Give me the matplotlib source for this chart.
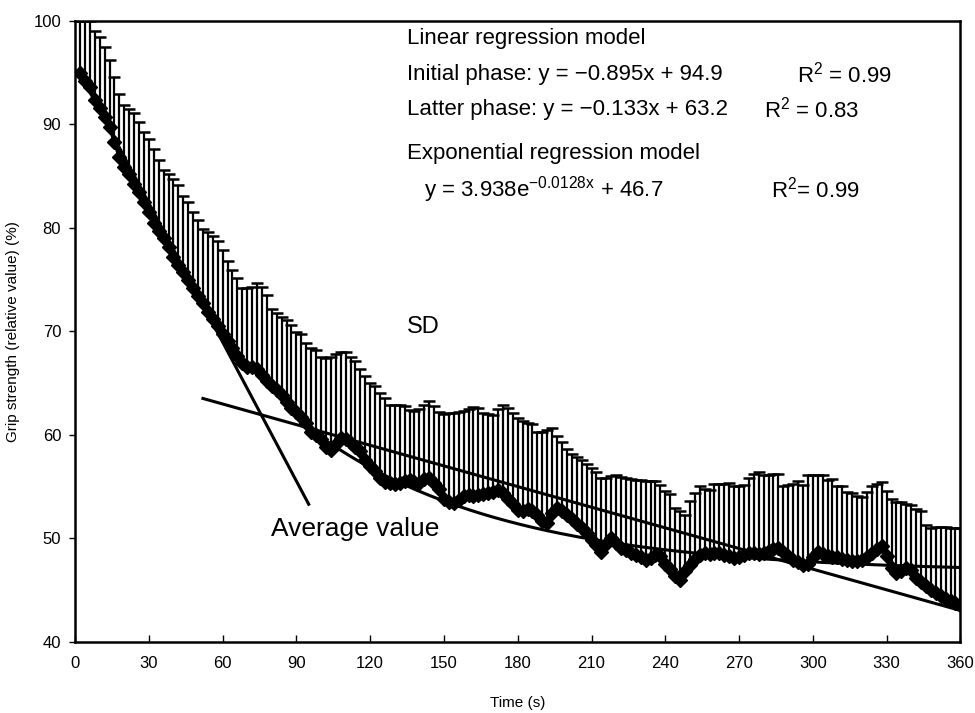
import matplotlib.pyplot as plt
import numpy as np

# measurement times (s), one sample every 2 s
time_s = np.arange(2, 361, 2)

# average grip strength (% of initial)
mean_vals = [
    94.9, 94.2, 93.6, 92.3, 91.6, 90.7, 89.7, 88.3, 86.8, 85.9,
    85.2, 84.2, 83.4, 82.5, 81.5, 80.5, 79.7, 79.0, 78.1, 77.2,
    76.4, 75.7, 74.9, 74.2, 73.4, 72.7, 71.9, 71.2, 70.5, 69.7,
    69.1, 68.4, 67.6, 66.9, 66.5, 66.5, 66.3, 65.8, 65.2, 64.7,
    64.3, 63.8, 63.2, 62.6, 62.2, 61.7, 61.1, 60.3, 60.0, 59.6,
    58.8, 58.5, 59.1, 59.7, 59.6, 59.2, 58.8, 58.4, 57.6, 57.0,
    56.5, 55.8, 55.4, 55.3, 55.2, 55.3, 55.5, 55.6, 55.4, 55.3,
    55.7, 55.8, 55.3, 54.8, 53.8, 53.5, 53.4, 53.7, 54.1, 54.2,
    54.1, 54.2, 54.3, 54.4, 54.5, 54.7, 54.4, 53.8, 53.3, 52.7,
    52.6, 52.8, 52.6, 52.2, 51.7, 51.5, 52.4, 52.9, 52.6, 52.2,
    51.9, 51.4, 51.0, 50.5, 49.8, 49.3, 48.7, 49.4, 50.0, 49.5,
    49.1, 48.9, 48.6, 48.4, 48.2, 47.9, 48.1, 48.4, 48.3, 47.5,
    47.0, 46.3, 46.0, 46.8, 47.4, 48.0, 48.4, 48.6, 48.5, 48.6,
    48.6, 48.4, 48.3, 48.1, 48.2, 48.4, 48.6, 48.6, 48.5, 48.6,
    48.8, 49.0, 49.1, 48.7, 48.3, 47.9, 47.7, 47.4, 47.5, 48.2,
    48.7, 48.5, 48.3, 48.2, 48.2, 48.0, 47.9, 47.8, 47.8, 47.9,
    48.2, 48.6, 49.0, 49.2, 48.3, 47.1, 46.6, 46.8, 47.1, 46.9,
    46.2, 45.8, 45.4, 45.0, 44.7, 44.4, 44.1, 43.9, 43.7, 43.5,
]

# average + SD (top of each error bar)
upper_vals = [
    100.0, 100.0, 100.0, 99.0, 98.4, 97.5, 96.2, 94.6, 92.9, 91.9,
    91.5, 91.1, 90.2, 89.2, 88.6, 87.6, 86.5, 85.6, 85.2, 84.7,
    84.1, 83.1, 82.5, 81.5, 80.7, 79.9, 79.6, 79.2, 78.7, 77.8,
    76.8, 75.9, 75.1, 74.2, 74.2, 74.3, 74.7, 74.3, 73.5, 72.1,
    71.8, 71.4, 71.1, 70.6, 69.9, 69.7, 68.9, 68.4, 68.2, 67.5,
    67.4, 67.5, 67.8, 68.0, 68.0, 67.5, 67.1, 66.3, 65.7, 65.0,
    64.7, 64.0, 63.5, 62.9, 62.9, 62.9, 62.8, 62.4, 62.3, 62.5,
    62.9, 63.3, 62.8, 62.2, 62.0, 62.1, 62.1, 62.2, 62.3, 62.5,
    62.7, 62.6, 62.1, 62.0, 61.9, 62.5, 62.9, 62.6, 62.1, 61.6,
    61.3, 61.1, 61.0, 60.3, 60.3, 60.5, 60.6, 59.9, 59.3, 58.6,
    58.1, 57.8, 57.6, 57.2, 56.8, 56.4, 55.8, 55.8, 56.0, 56.1,
    55.9, 55.8, 55.7, 55.6, 55.6, 55.5, 55.5, 55.5, 55.1, 54.6,
    54.3, 52.9, 52.6, 52.2, 53.6, 54.4, 55.0, 54.8, 54.7, 55.2,
    55.2, 55.2, 55.3, 55.0, 55.0, 55.1, 55.8, 56.2, 56.4, 56.1,
    56.1, 56.2, 56.2, 55.0, 55.1, 55.2, 55.5, 55.1, 56.1, 56.1,
    56.1, 56.1, 55.6, 55.7, 55.0, 55.0, 54.5, 54.4, 54.1, 54.0,
    54.5, 55.0, 55.2, 55.4, 54.6, 53.8, 53.5, 53.5, 53.3, 53.2,
    52.8, 52.6, 51.3, 51.0, 51.1, 51.1, 51.1, 51.0, 51.0, 51.0,
]

# regression models shown on the chart
init_slope, init_icpt = -0.895, 94.9
late_slope, late_icpt = -0.133, 63.2
exp_a, exp_k, exp_c = 47.0, 0.0128, 46.7

mean_vals = np.array(mean_vals)
upper_vals = np.array(upper_vals)

plt.rcParams['font.family'] = ['Liberation Sans', 'DejaVu Sans']
plt.rcParams['mathtext.fontset'] = 'custom'
plt.rcParams['mathtext.rm'] = 'Liberation Sans'

fig = plt.figure(figsize=(9.75, 7.13), dpi=100)
ax = fig.add_axes([0.077, 0.1, 0.908, 0.871])

# SD bars (upper only)
ax.vlines(time_s, mean_vals, upper_vals, color='black', lw=1.6, zorder=2)
ax.plot(time_s, upper_vals, ls='none', marker='_', ms=8, mew=1.8,
        color='black', zorder=2)

# regression lines
t1 = np.array([2, 95])
ax.plot(t1, init_icpt + init_slope * (t1 - 2) / 2, color='black', lw=2.2, zorder=3)
t2 = np.array([52, 359])
ax.plot(t2, late_icpt + late_slope * (t2 - 52) / 2 + 0.3, color='black', lw=2.2, zorder=3)
t3 = np.linspace(95, 360, 200)
ax.plot(t3, exp_c + exp_a * np.exp(-exp_k * t3), color='black', lw=2.2, zorder=3)

# average values
ax.plot(time_s, mean_vals, color='black', lw=2.5, marker='D', ms=7.5,
        mfc='black', mec='black', zorder=4)

ax.set_xlim(0, 360)
ax.set_ylim(40, 100)
ax.set_xticks(np.arange(0, 361, 30))
ax.set_yticks(np.arange(40, 101, 10))
ax.tick_params(axis='x', direction='in', length=5, width=1, pad=10, labelsize=12)
ax.tick_params(axis='y', direction='out', length=4, width=1, pad=6, labelsize=12)
for sp in ax.spines.values():
    sp.set_linewidth(1.8)

ax.set_xlabel('Time (s)', fontsize=11, labelpad=18)
ax.set_ylabel('Grip strength (relative value) (%)', fontsize=11, labelpad=10)

tkw = dict(fontsize=16, va='center', ha='left')
ax.text(135, 98.3, 'Linear regression model', **tkw)
ax.text(135, 94.8, 'Initial phase: y = \u22120.895x + 94.9', **tkw)
ax.text(293.5, 94.8, 'R$^2$ = 0.99', **tkw)
ax.text(135, 91.4, 'Latter phase: y = \u22120.133x + 63.2', **tkw)
ax.text(280, 91.4, 'R$^2$ = 0.83', **tkw)
ax.text(135, 87.2, 'Exponential regression model', **tkw)
ax.text(142, 83.7, 'y = 3.938e$^{\\mathrm{\u22120.0128x}}$ + 46.7', **tkw)
ax.text(283, 83.7, 'R$^2$= 0.99', **tkw)

ax.text(135, 70.4, 'SD', fontsize=17, va='center', ha='left')
ax.text(114, 50.9, 'Average value', fontsize=19, va='center', ha='center')

fig.savefig('out.png', dpi=100)
